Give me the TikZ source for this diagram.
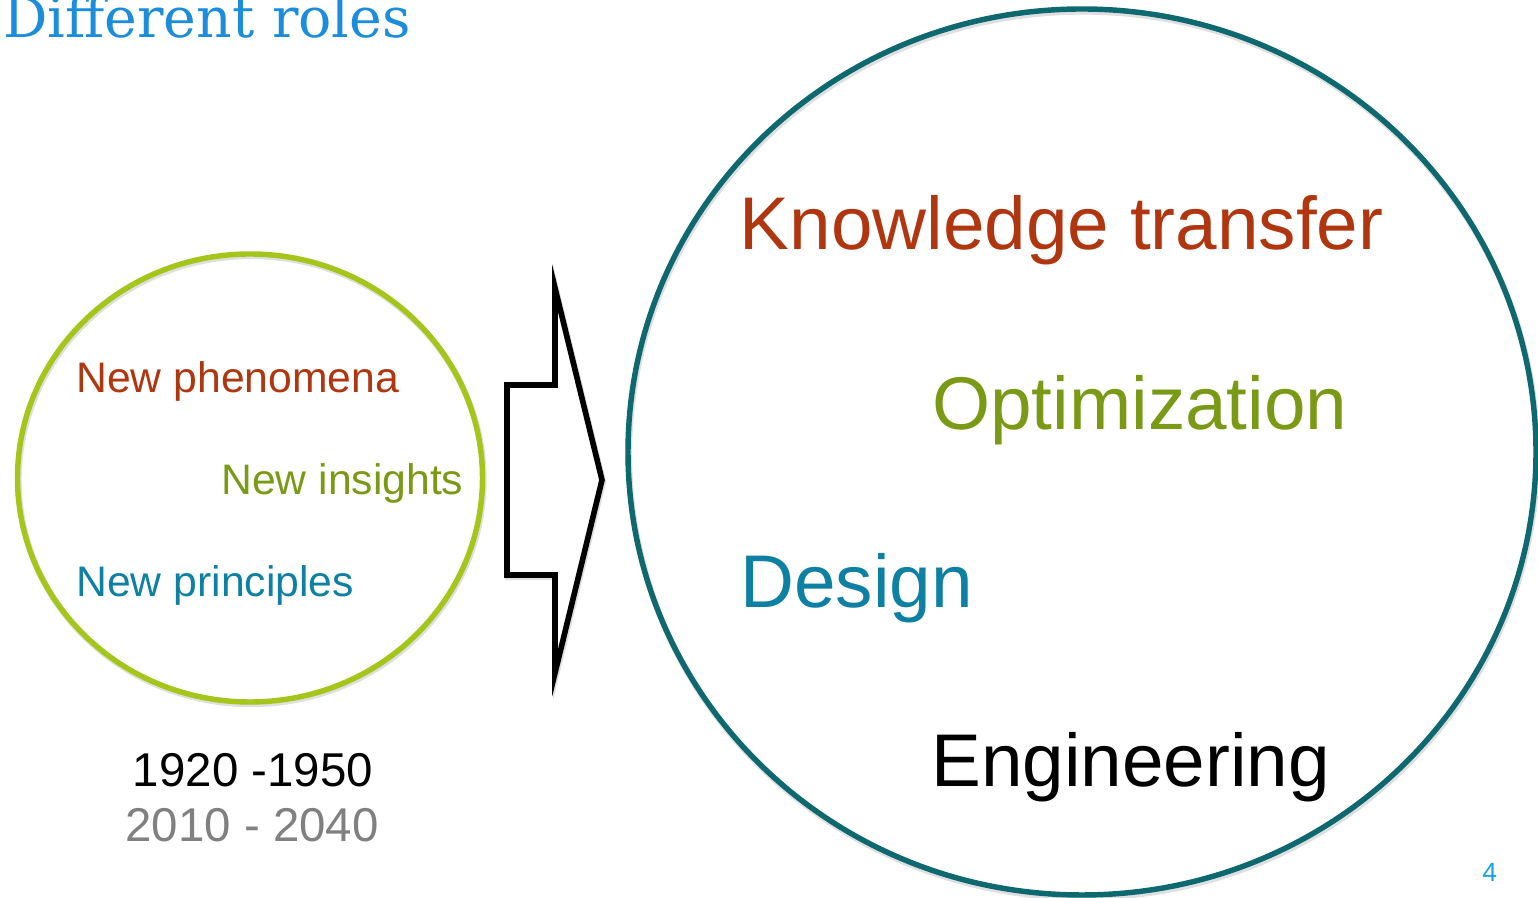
\documentclass[tikz,border=0pt]{standalone}
\usepackage{fontspec}
\setmainfont{Liberation Sans}
\newfontfamily\titlefont{DejaVu Serif}
\usepackage{tikz}
\usetikzlibrary{calc}
\definecolor{titleblue}{RGB}{27,141,218}
\definecolor{ringgreen}{RGB}{164,198,26}
\definecolor{ringteal}{RGB}{14,104,112}
\definecolor{rustred}{RGB}{176,54,16}
\definecolor{olive}{RGB}{122,154,22}
\definecolor{seablue}{RGB}{13,128,163}
\def\fsize#1{\fontsize{#1pt}{#1pt}\selectfont}

\begin{document}
\begin{tikzpicture}
		%%%%% START %%%%%
		\useasboundingbox (0, 0) rectangle (30.76, 17.96);
		
		\node[anchor=base west, inner sep=0, color=titleblue] (title) at (0.06, 17.2) {\titlefont\fsize{31.5}Different roles};
		
		% old roles
		\draw[line width=3.6pt, color=black!25, opacity=0.5] (5.02, 8.36) ellipse (4.65 and 4.48);
		\draw[line width=3.1pt, color=ringgreen] (5.0, 8.40) ellipse (4.65 and 4.48);
		
		\node[anchor=base west, inner sep=0, color=rustred] (phenomena) at (1.52, 10.10) {\fsize{24.3}New phenomena};
		\node[anchor=base west, inner sep=0, color=olive] (insights) at (4.42, 8.06) {\fsize{24.3}New insights};
		\node[anchor=base west, inner sep=0, color=seablue] (principles) at (1.52, 6.02) {\fsize{24.3}New principles};
		
		\node[anchor=base, inner sep=0, color=black] (past) at (5.06, 2.22) {\fsize{27}1920 -1950};
		\node[anchor=base, inner sep=0, color=black!50] (future) at (5.04, 1.12) {\fsize{27}2010 - 2040};
		
		% arrow
		\draw[line width=3.6pt, color=black!25, opacity=0.5, miter limit=20] (10.16, 10.22) -- (11.12, 10.22) -- (11.12, 12.16) -- (12.06, 8.32) -- (11.12, 4.46) -- (11.12, 6.42) -- (10.16, 6.42) -- cycle;
		\draw[line width=3.2pt, fill=white, miter limit=20] (10.14, 10.26) -- (11.10, 10.26) -- (11.10, 12.20) -- (12.04, 8.36) -- (11.10, 4.50) -- (11.10, 6.46) -- (10.14, 6.46) -- cycle;
		
		% new roles
		\draw[line width=3.6pt, color=black!25, opacity=0.5] (21.66, 8.87) ellipse (9.08 and 8.86);
		\draw[line width=3.1pt, color=ringteal] (21.64, 8.92) ellipse (9.08 and 8.86);
		
		\node[anchor=base west, inner sep=0, color=rustred] (transfer) at (14.79, 12.96) {\fsize{42.5}Knowledge transfer};
		\node[anchor=base west, inner sep=0, color=olive] (optim) at (18.64, 9.36) {\fsize{42.5}Optimization};
		\node[anchor=base west, inner sep=0, color=seablue] (design) at (14.80, 5.80) {\fsize{42.5}Design};
		\node[anchor=base west, inner sep=0, color=black] (engin) at (18.62, 2.22) {\fsize{42.5}Engineering};
		
		\node[anchor=base west, inner sep=0, color=titleblue!80!cyan] (pagenum) at (29.64, 0.32) {\fsize{15}4};
		%%%%% END %%%%%
\end{tikzpicture}
\end{document}
